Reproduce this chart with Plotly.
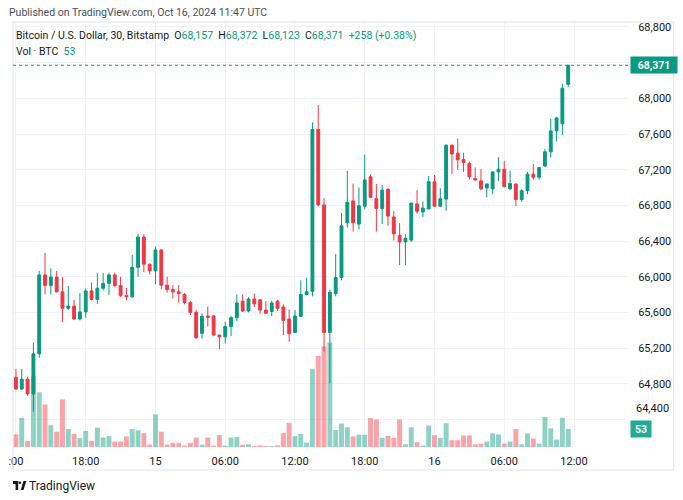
import plotly.graph_objects as go
import pandas as pd

# ---------------- data (BTC/USD, 30 min, Bitstamp) ----------------
start_time = "2024-10-14 12:00"
n_candles = 96

opens = [64870, 64740, 64850, 64685, 65135, 66020, 65900, 65995, 65830, 65645,
         65670, 65525, 65605, 65840, 65745, 65870, 65925, 66020, 65900, 65790,
         65775, 66105, 66445, 66140, 66065, 66300, 65905, 65855, 65830, 65800,
         65710, 65600, 65365, 65560, 65560, 65345, 65325, 65440, 65540, 65725,
         65615, 65750, 65740, 65625, 65610, 65725, 65660, 65525, 65375, 65555,
         65800, 65835, 67650, 66805, 65375, 65810, 65990, 66605, 66850, 66590,
         66790, 67120, 66875, 66765, 66980, 66670, 66465, 66390, 66410, 66815,
         66725, 66760, 67065, 66790, 66870, 67475, 67385, 67315, 67270, 67100,
         67075, 66995, 66985, 67175, 67205, 66985, 67040, 66865, 66965, 67150,
         67115, 67240, 67400, 67635, 67715, 68157]
highs = [64965, 64965, 64880, 65265, 66065, 66265, 66095, 66065, 65995, 65895,
         65740, 65815, 65870, 65935, 66040, 66040, 66045, 66045, 66000, 65875,
         66245, 66480, 66475, 66145, 66340, 66305, 66000, 65905, 65905, 65815,
         65730, 65630, 65590, 65665, 65570, 65345, 65495, 65560, 65800, 65800,
         65770, 65810, 65750, 65725, 65730, 65740, 65690, 65630, 65625, 65960,
         65990, 67730, 67925, 66880, 65855, 66250, 66715, 67185, 67045, 67000,
         67370, 67150, 67040, 67030, 66990, 66735, 66600, 66475, 66830, 66970,
         66845, 67130, 67140, 66990, 67480, 67480, 67550, 67390, 67290, 67225,
         67205, 67045, 67180, 67340, 67300, 67190, 67045, 66980, 67175, 67265,
         67230, 67430, 67770, 67790, 68165, 68372]
lows = [64730, 64730, 64665, 64485, 65090, 65800, 65800, 65825, 65490, 65625,
        65515, 65510, 65540, 65735, 65695, 65845, 65795, 65885, 65770, 65735,
        65760, 66000, 66050, 66025, 65915, 65860, 65820, 65755, 65710, 65690,
        65570, 65305, 65305, 65440, 65340, 65190, 65250, 65335, 65500, 65605,
        65600, 65660, 65585, 65585, 65555, 65615, 65345, 65270, 65370, 65550,
        65790, 65780, 66790, 65160, 64805, 65780, 65960, 66550, 66505, 66530,
        66755, 66880, 66505, 66590, 66570, 66405, 66130, 66130, 66390, 66705,
        66670, 66755, 66790, 66780, 66740, 67150, 67195, 67175, 67090, 67075,
        66970, 66890, 66925, 67075, 67000, 66970, 66790, 66840, 66925, 67090,
        67090, 67230, 67335, 67515, 67590, 68123]
closes = [64740, 64850, 64685, 65135, 66020, 65900, 65995, 65830, 65645, 65670,
          65525, 65605, 65840, 65745, 65870, 65925, 66020, 65900, 65790, 65775,
          66105, 66445, 66140, 66065, 66300, 65905, 65855, 65830, 65810, 65710,
          65600, 65315, 65555, 65545, 65345, 65325, 65440, 65540, 65705, 65615,
          65750, 65695, 65625, 65590, 65705, 65645, 65510, 65360, 65560, 65800,
          65830, 67650, 66805, 65375, 65825, 65990, 66570, 66835, 66605, 66795,
          67085, 66890, 66765, 66970, 66680, 66480, 66390, 66430, 66825, 66735,
          66770, 67065, 66790, 66875, 67475, 67375, 67310, 67280, 67120, 67085,
          66985, 67040, 67175, 67205, 67010, 67045, 66865, 66965, 67150, 67115,
          67225, 67400, 67635, 67780, 68113, 68371]
volumes = [37, 86, 18, 210, 161, 125, 64, 45, 140, 53,
           39, 26, 47, 18, 57, 28, 32, 16, 16, 31,
           53, 49, 41, 7, 96, 45, 7, 12, 12, 4,
           12, 28, 7, 28, 4, 35, 4, 28, 29, 7,
           8, 3, 5, 3, 3, 5, 41, 71, 32, 39,
           13, 230, 268, 296, 307, 50, 69, 58, 31, 36,
           36, 85, 81, 27, 33, 27, 81, 8, 58, 14,
           4, 63, 35, 27, 70, 20, 20, 34, 34, 8,
           10, 16, 40, 37, 10, 16, 53, 8, 40, 25,
           10, 88, 55, 22, 86, 53]

price_ticks = [64400, 64800, 65200, 65600, 66000, 66400, 66800, 67200, 67600, 68000, 68400, 68800]
time_tick_vals = ["2024-10-14 12:00", "2024-10-14 18:00", "2024-10-15 00:00", "2024-10-15 06:00",
                  "2024-10-15 12:00", "2024-10-15 18:00", "2024-10-16 00:00", "2024-10-16 06:00",
                  "2024-10-16 12:00"]
time_tick_text = [":00", "18:00", "15", "06:00", "12:00", "18:00", "16", "06:00", "12:00"]
last_price = 68371
last_volume = 53

# ---------------- styling ----------------
W, H = 683, 500
L, R, T, B = 8, 629, 22, 447          # plot area in pixels
GREEN = "#089981"
RED = "#F23645"
GREEN_V = "rgba(8,153,129,0.45)"
RED_V = "rgba(242,54,69,0.45)"
GRID = "#F0F3FA"
TXT = "#131722"
FONT = "Roboto"

def px_x(x):
    return (x - L) / (R - L)

def px_y(y):
    return (B - y) / (B - T)

times = pd.date_range(start_time, periods=n_candles, freq="30min")
vol_colors = [GREEN_V if c >= o else RED_V for o, c in zip(opens, closes)]

fig = go.Figure()
fig.add_trace(go.Bar(x=times, y=volumes, marker_color=vol_colors, marker_line_width=0,
                     yaxis="y", showlegend=False, hoverinfo="skip"))
fig.add_trace(go.Candlestick(x=times, open=opens, high=highs, low=lows, close=closes,
                             yaxis="y2", showlegend=False,
                             increasing=dict(line=dict(color=GREEN, width=1), fillcolor=GREEN),
                             decreasing=dict(line=dict(color=RED, width=1), fillcolor=RED)))

x0 = times[0] - pd.Timedelta(minutes=15.3)
x1 = times[0] + pd.Timedelta(minutes=30 * 105.46)

# 68,400 is covered by the last-price badge; 64,400 is drawn shifted above the volume badge
ytext = [f"{v:,}" if v not in (64400, 68400) else "" for v in price_ticks]

fig.update_layout(
    width=W, height=H, autosize=False,
    margin=dict(l=L, r=W - R, t=T, b=H - B, pad=0),
    paper_bgcolor="white", plot_bgcolor="white",
    font=dict(family=FONT, size=11, color=TXT),
    bargap=0.15,
    xaxis=dict(type="date", range=[x0, x1], tickvals=time_tick_vals, ticktext=time_tick_text,
               showgrid=True, gridcolor=GRID, gridwidth=1, zeroline=False, showline=False,
               ticks="outside", ticklen=4, tickcolor="rgba(0,0,0,0)",
               tickfont=dict(size=11, color=TXT), rangeslider=dict(visible=False)),
    yaxis=dict(range=[0, 1250], visible=False, showgrid=False, fixedrange=True),
    yaxis2=dict(overlaying="y", side="right", range=[64090, 68856],
                tickvals=price_ticks, ticktext=ytext, showgrid=True, gridcolor=GRID,
                zeroline=False, showline=False, ticks="outside", ticklen=6,
                tickcolor="rgba(0,0,0,0)", tickfont=dict(size=11, color=TXT)),
    hovermode=False,
)

shapes = []
# outer frame
shapes.append(dict(type="rect", xref="paper", yref="paper", x0=px_x(8), x1=px_x(674),
                   y0=px_y(470), y1=px_y(22), line=dict(color="#E0E3EB", width=1),
                   fillcolor="rgba(0,0,0,0)", layer="above"))
# last price dotted line
shapes.append(dict(type="line", xref="paper", yref="y2", x0=0, x1=1, y0=last_price, y1=last_price,
                   line=dict(color=GREEN, width=1, dash="dot")))
# TradingView logo (approximate)
logo = "#131722"
shapes.append(dict(type="rect", xref="paper", yref="paper", x0=px_x(8), x1=px_x(13.2),
                   y0=px_y(484), y1=px_y(481), fillcolor=logo, line=dict(width=0)))
shapes.append(dict(type="rect", xref="paper", yref="paper", x0=px_x(10.6), x1=px_x(13.2),
                   y0=px_y(490), y1=px_y(481), fillcolor=logo, line=dict(width=0)))
shapes.append(dict(type="circle", xref="paper", yref="paper", x0=px_x(13.8), x1=px_x(16.3),
                   y0=px_y(484), y1=px_y(481.5), fillcolor=logo, line=dict(width=0)))
shapes.append(dict(type="path", xref="paper", yref="paper",
                   path=(f"M {px_x(15.8)} {px_y(490)} L {px_x(18.6)} {px_y(481)} "
                         f"L {px_x(21.4)} {px_y(481)} L {px_x(18.6)} {px_y(490)} Z"),
                   fillcolor=logo, line=dict(width=0)))
fig.update_layout(shapes=shapes)

ann = []
ann.append(dict(xref="paper", yref="paper", x=px_x(2), y=px_y(12), xanchor="left", yanchor="middle",
                text="Published on TradingView.com, Oct 16, 2024 11:47 UTC", showarrow=False,
                font=dict(size=10.5, color="#4A4E59")))
g = GREEN
legend1 = ("Bitcoin / U.S. Dollar, 30, Bitstamp&nbsp;&nbsp;"
           f"O<span style='color:{g}'>68,157</span>&nbsp;&nbsp;"
           f"H<span style='color:{g}'>68,372</span>&nbsp;&nbsp;"
           f"L<span style='color:{g}'>68,123</span>&nbsp;&nbsp;"
           f"C<span style='color:{g}'>68,371</span>&nbsp;&nbsp;"
           f"<span style='color:{g}'>+258 (+0.38%)</span>")
ann.append(dict(xref="paper", yref="paper", x=px_x(9), y=px_y(35), xanchor="left", yanchor="middle",
                text=legend1, showarrow=False, font=dict(size=10.5, color=TXT)))
ann.append(dict(xref="paper", yref="paper", x=px_x(9), y=px_y(51), xanchor="left", yanchor="middle",
                text=f"Vol · BTC&nbsp;&nbsp;<span style='color:{g}'>{last_volume}</span>",
                showarrow=False, font=dict(size=10.5, color=TXT)))
# price badge
ann.append(dict(xref="paper", yref="y2", x=px_x(630), y=last_price, xanchor="left", yanchor="middle",
                text=f"<b>{last_price:,}</b>", showarrow=False, bgcolor=GREEN, width=44, height=14,
                font=dict(size=10.5, color="white"), borderpad=1))
# volume badge
ann.append(dict(xref="paper", yref="y", x=px_x(630), y=last_volume, xanchor="left", yanchor="middle",
                text=f"<b>{last_volume}</b>", showarrow=False, bgcolor="#22AB94", width=18, height=14,
                font=dict(size=10.5, color="white"), borderpad=1))
# shifted 64,400 label
ann.append(dict(xref="paper", yref="paper", x=px_x(634), y=px_y(408), xanchor="left", yanchor="middle",
                text="64,400", showarrow=False, font=dict(size=11, color=TXT)))
# footer
ann.append(dict(xref="paper", yref="paper", x=px_x(22), y=px_y(485.5), xanchor="left", yanchor="middle",
                text="TradingView", showarrow=False, font=dict(size=12, color=TXT)))
fig.update_layout(annotations=ann)

fig.write_html("out.html", config={"displayModeBar": False},
               post_script="document.body.style.margin='0';document.body.style.padding='0';")
